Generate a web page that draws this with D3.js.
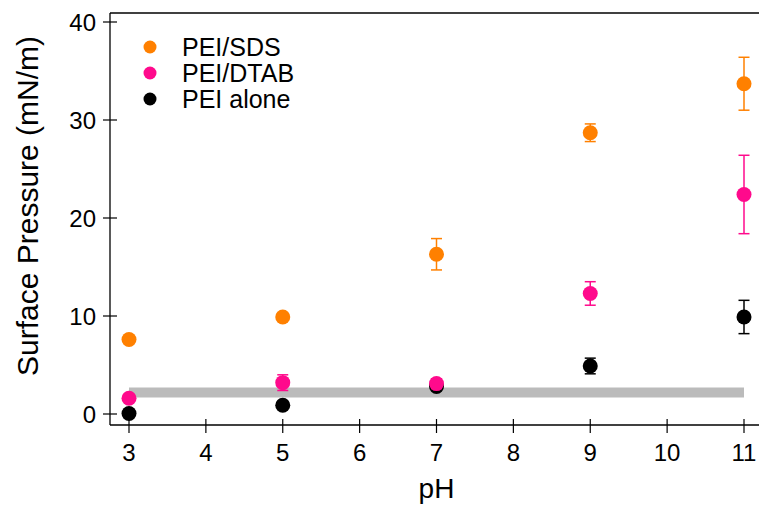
<!DOCTYPE html>
<html>
<head>
<meta charset="utf-8">
<script src="https://cdn.jsdelivr.net/npm/d3@7"></script>
<style>
  html, body { margin: 0; padding: 0; background: #fff; }
  svg { display: block; font-family: "Liberation Sans", Arial, Helvetica, sans-serif; }
</style>
</head>
<body>
<svg id="chart" width="759" height="506"></svg>
<script>
// ---- data ----
const pH = [3, 5, 7, 9, 11];
const sdsValues = [7.6, 9.9, 16.3, 28.7, 33.7];
const sdsErrors = [0, 0, 1.6, 0.9, 2.7];
const dtabValues = [1.6, 3.2, 3.1, 12.3, 22.4];
const dtabErrors = [0, 0.8, 0.5, 1.2, 4.0];
const aloneValues = [0.05, 0.9, 2.8, 4.9, 9.9];
const aloneErrors = [0, 0, 0.3, 0.8, 1.7];
const baselineValue = 2.2;
const xTicks = [3, 4, 5, 6, 7, 8, 9, 10, 11];
const yTicks = [0, 10, 20, 30, 40];
const seriesNames = ["PEI/SDS", "PEI/DTAB", "PEI alone"];
const seriesColors = ["#ff8000", "#ff0a8c", "#000000"];

const series = [
  { name: seriesNames[0], color: seriesColors[0], values: sdsValues, errors: sdsErrors },
  { name: seriesNames[2], color: seriesColors[2], values: aloneValues, errors: aloneErrors },
  { name: seriesNames[1], color: seriesColors[1], values: dtabValues, errors: dtabErrors }
];

const svg = d3.select("#chart");
const x = d3.scaleLinear().domain([3, 11]).range([129, 744]);
const y = d3.scaleLinear().domain([0, 40]).range([414, 22]);
const plotLeft = 110, plotTop = 13, plotBottom = 425, plotRight = 759;

// baseline band
svg.append("line")
  .attr("x1", x(3)).attr("x2", x(11))
  .attr("y1", y(baselineValue)).attr("y2", y(baselineValue))
  .attr("stroke", "#bbbbbb").attr("stroke-width", 10);

// frame: left, top, bottom
svg.append("line").attr("x1", plotLeft).attr("x2", plotLeft).attr("y1", plotTop).attr("y2", plotBottom)
  .attr("stroke", "#000").attr("stroke-width", 1.3);
svg.append("line").attr("x1", plotLeft).attr("x2", plotRight).attr("y1", plotTop).attr("y2", plotTop)
  .attr("stroke", "#000").attr("stroke-width", 1.3);
svg.append("line").attr("x1", plotLeft).attr("x2", plotRight).attr("y1", plotBottom).attr("y2", plotBottom)
  .attr("stroke", "#000").attr("stroke-width", 1.3);

// y ticks
const yAxis = svg.append("g");
yTicks.forEach(t => {
  yAxis.append("line").attr("x1", plotLeft - 7).attr("x2", plotLeft + 7)
    .attr("y1", y(t)).attr("y2", y(t)).attr("stroke", "#000").attr("stroke-width", 1.2);
  yAxis.append("text").attr("x", 96).attr("y", y(t)).attr("dy", "0.36em")
    .attr("text-anchor", "end").attr("font-size", 24).text(t);
});

// x ticks
const xAxis = svg.append("g");
xTicks.forEach(t => {
  xAxis.append("line").attr("x1", x(t)).attr("x2", x(t))
    .attr("y1", plotBottom - 6).attr("y2", plotBottom + 8).attr("stroke", "#000").attr("stroke-width", 1.2);
  xAxis.append("text").attr("x", x(t)).attr("y", 461)
    .attr("text-anchor", "middle").attr("font-size", 24).text(t);
});

// axis titles
svg.append("text").attr("x", x(7)).attr("y", 498).attr("text-anchor", "middle")
  .attr("font-size", 28).text("pH");
svg.append("text").attr("transform", "translate(38,206) rotate(-90)")
  .attr("text-anchor", "middle").attr("font-size", 30).text("Surface Pressure (mN/m)");

// series
series.forEach(s => {
  const g = svg.append("g");
  const pts = pH.map((p, i) => ({ p, v: s.values[i], e: s.errors[i] }));
  const eb = pts.filter(d => d.e > 0);
  g.selectAll(".err").data(eb).join("line")
    .attr("x1", d => x(d.p)).attr("x2", d => x(d.p))
    .attr("y1", d => y(d.v - d.e)).attr("y2", d => y(d.v + d.e))
    .attr("stroke", s.color).attr("stroke-width", 1.5);
  [-1, 1].forEach(sign => {
    g.selectAll(".cap" + sign).data(eb).join("line")
      .attr("x1", d => x(d.p) - 5.5).attr("x2", d => x(d.p) + 5.5)
      .attr("y1", d => y(d.v + sign * d.e)).attr("y2", d => y(d.v + sign * d.e))
      .attr("stroke", s.color).attr("stroke-width", 1.5);
  });
  g.selectAll("circle").data(pts).join("circle")
    .attr("cx", d => x(d.p)).attr("cy", d => y(d.v)).attr("r", 7.5)
    .attr("fill", s.color);
});

// legend
const legend = svg.append("g");
[0, 1, 2].forEach(i => {
  const ly = 47 + i * 26;
  legend.append("circle").attr("cx", 150).attr("cy", ly).attr("r", 6.5).attr("fill", seriesColors[i]);
  legend.append("text").attr("x", 182).attr("y", ly).attr("dy", "0.36em")
    .attr("font-size", 25).text(seriesNames[i]);
});
</script>
</body>
</html>
